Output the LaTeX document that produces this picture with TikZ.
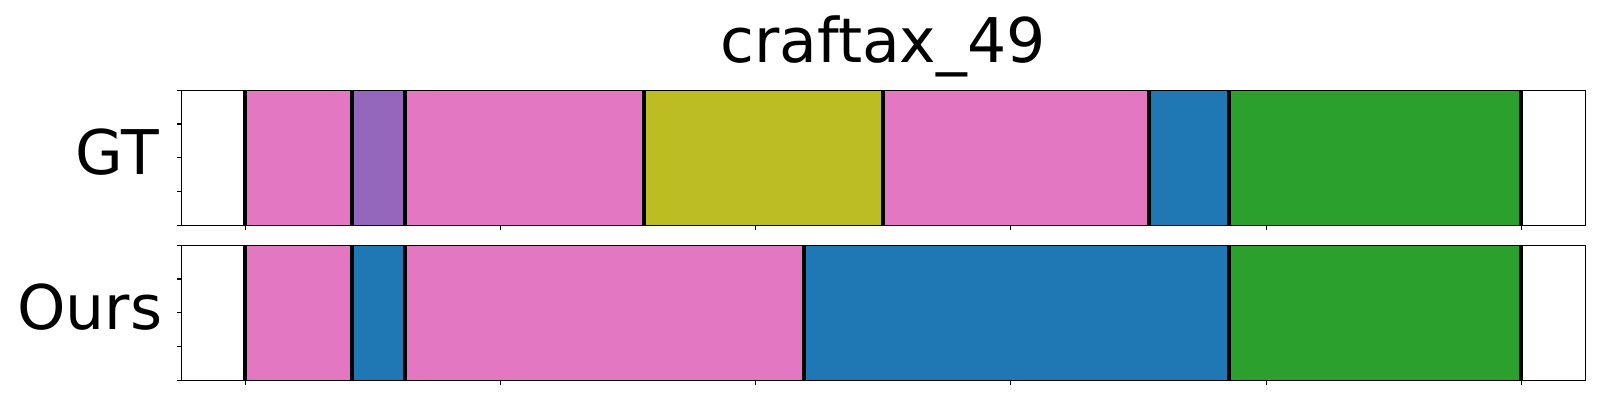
\documentclass[tikz,border=0pt]{standalone}
\usepackage{fontspec}
\setmainfont{DejaVu Sans}
\definecolor{tpink}{HTML}{E377C2}
\definecolor{tpurple}{HTML}{9467BD}
\definecolor{tolive}{HTML}{BCBD22}
\definecolor{tblue}{HTML}{1F77B4}
\definecolor{tgreen}{HTML}{2CA02C}
\begin{document}
\begin{tikzpicture}[x=0.5pt,y=-0.5pt,
  spine/.style={line width=0.6pt},
  sepline/.style={line width=2pt},
  tickline/.style={line width=0.55pt},
  lab/.style={font=\fontsize{30.8}{36}\selectfont, inner sep=0pt}]
\fill[white] (0,0) rectangle (1600,400);
\useasboundingbox (0,0) rectangle (1600,400);
% GT segments
\foreach \a/\b/\c in {245/351.8/tpink, 351.8/405.2/tpurple, 405.2/643.8/tpink, 643.8/882.8/tolive, 882.8/1148.7/tpink, 1148.7/1228.8/tblue, 1228.8/1520.8/tgreen}
  \fill[\c] (\a,90.3) rectangle (\b,225.3);
\foreach \x in {245,351.8,405.2,643.8,882.8,1148.7,1228.8,1520.8}
  \draw[sepline] (\x,90.3) -- (\x,225.3);
% Ours segments
\foreach \a/\b/\c in {245/351.8/tpink, 351.8/405.2/tblue, 405.2/803.7/tpink, 803.7/1228.8/tblue, 1228.8/1520.8/tgreen}
  \fill[\c] (\a,245.3) rectangle (\b,380.3);
\foreach \x in {245,351.8,405.2,803.7,1228.8,1520.8}
  \draw[sepline] (\x,245.3) -- (\x,380.3);
% spines
\draw[spine] (181.3,90.3) rectangle (1585.7,225.3);
\draw[spine] (181.3,245.3) rectangle (1585.7,380.3);
% ticks
\foreach \t in {90.3,245.3} {
  \foreach \k in {0,...,4}
    \draw[tickline] (181.3,\t+\k*33.75) -- (176.5,\t+\k*33.75);
  \foreach \k in {0,...,5}
    \draw[tickline] (245.3+\k*255.2,\t+135) -- (245.3+\k*255.2,\t+139.8);
}
% labels
\node[lab, anchor=base] (title) at (883,62.3) {craftax\_49};
\node[lab, anchor=base east] (gt) at (159.5,175) {GT};
\node[lab, anchor=base east] (ours) at (162.5,330) {Ours};
\end{tikzpicture}
\end{document}
